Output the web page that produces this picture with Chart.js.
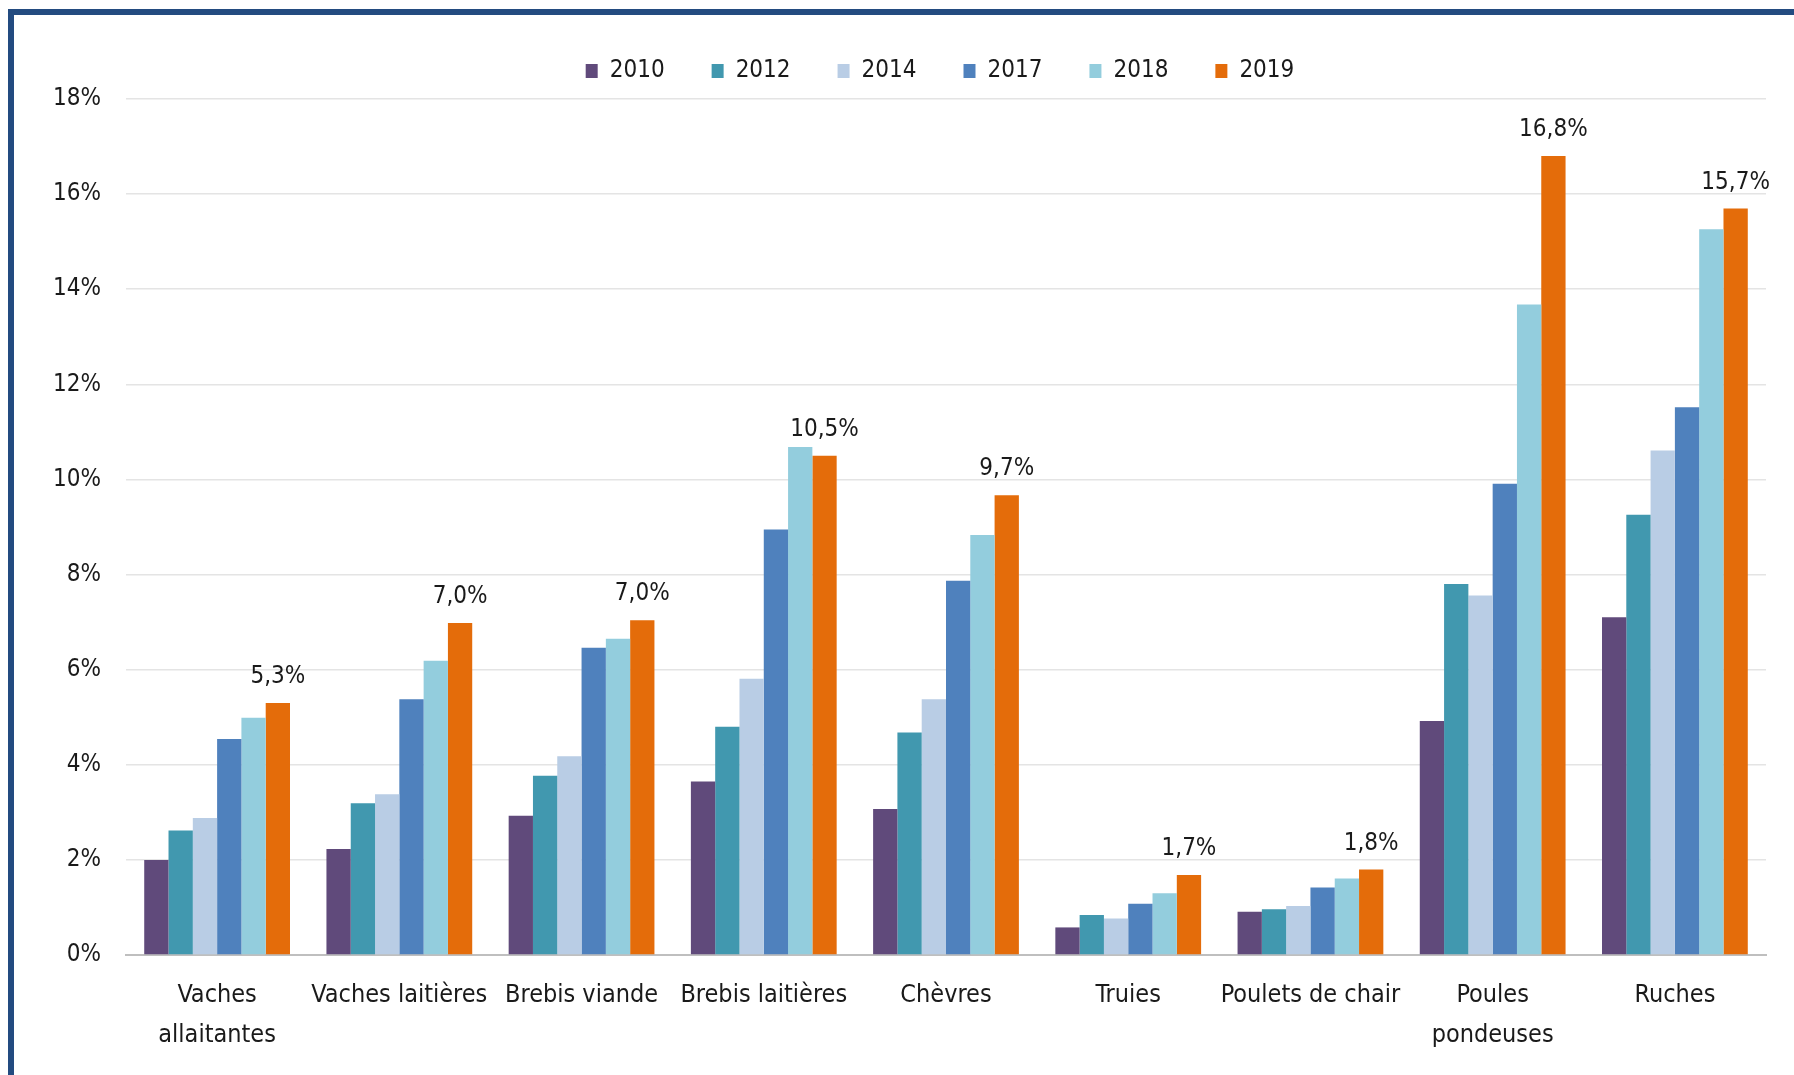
<!DOCTYPE html>
<html lang="fr">
<head>
<meta charset="utf-8">
<title>Part des cheptels en bio</title>
<script src="https://cdn.jsdelivr.net/npm/chart.js@4.4.1/dist/chart.umd.min.js"></script>
<style>
    html, body { margin: 0; padding: 0; background: #fff; overflow: hidden; }
    #frame {
        position: absolute; left: 8px; top: 9px;
        width: 2000px; height: 1200px;
        border: 6px solid #234b80; border-right: none; border-bottom: none;
        box-sizing: border-box;
    }
    #wrap { position: absolute; left: 0; top: 0; width: 1794px; height: 1075px; }
</style>
</head>
<body>
<div id="frame"></div>
<div id="wrap"><canvas id="chart"></canvas></div>
<script>
const categories = [
    ['Vaches', 'allaitantes'], 'Vaches laitières', 'Brebis viande', 'Brebis laitières',
    'Chèvres', 'Truies', 'Poulets de chair', ['Poules', 'pondeuses'], 'Ruches'
];
const years = ['2010', '2012', '2014', '2017', '2018', '2019'];
const colors = ['#604a7b', '#4198af', '#b9cde5', '#4f81bd', '#93cddd', '#e46c0a'];

// part du cheptel en bio, en %
const values2010 = [2.0, 2.23, 2.93, 3.65, 3.07, 0.58, 0.91, 4.92, 7.1];
const values2012 = [2.62, 3.19, 3.77, 4.8, 4.68, 0.84, 0.96, 7.8, 9.26];
const values2014 = [2.88, 3.38, 4.18, 5.81, 5.38, 0.77, 1.03, 7.56, 10.61];
const values2017 = [4.54, 5.38, 6.46, 8.95, 7.87, 1.08, 1.42, 9.91, 11.52];
const values2018 = [4.99, 6.19, 6.65, 10.68, 8.83, 1.3, 1.61, 13.68, 15.26];
const values2019 = [5.3, 6.98, 7.04, 10.5, 9.67, 1.68, 1.8, 16.8, 15.7];
const yTicks = [0, 2, 4, 6, 8, 10, 12, 14, 16, 18];

const FONT = "'Liberation Sans Narrow', 'DejaVu Sans Condensed', 'Arial Narrow', sans-serif";

const valueLabels = {
    id: 'valueLabels',
    afterDatasetsDraw(chart) {
        const ctx = chart.ctx;
        const meta = chart.getDatasetMeta(5);
        ctx.save();
        ctx.font = '24px ' + FONT;
        ctx.fillStyle = '#1a1a1a';
        ctx.textAlign = 'center';
        ctx.textBaseline = 'middle';
        meta.data.forEach((bar, i) => {
            const txt = values2019[i].toFixed(1).replace('.', ',') + '%';
            ctx.fillText(txt, bar.x, bar.y - 26);
        });
        ctx.restore();
    }
};

// recale la légende comme sur l'original
const legendShift = {
    id: 'legendShift',
    afterLayout(chart) {
        const lg = chart.legend;
        lg.left += 57;
        lg.right += 57;
        lg.top -= 6;
        lg.bottom -= 6;
    }
};

new Chart(document.getElementById('chart'), {
    type: 'bar',
    data: {
        labels: categories,
        datasets: [values2010, values2012, values2014, values2017, values2018, values2019].map((d, i) => ({
            label: years[i],
            data: d,
            backgroundColor: colors[i],
            borderWidth: 0,
            categoryPercentage: 0.8,
            barPercentage: 1.0
        }))
    },
    options: {
        responsive: true,
        maintainAspectRatio: false,
        animation: false,
        layout: { padding: { left: 0, right: 28, top: 18, bottom: 0 } },
        plugins: {
            tooltip: { enabled: false },
            legend: {
                position: 'top',
                labels: {
                    boxWidth: 12,
                    boxHeight: 14,
                    padding: 47,
                    color: '#1a1a1a',
                    font: { family: FONT, size: 24 }
                }
            }
        },
        scales: {
            x: {
                grid: { display: false },
                border: { color: '#bfbfbf', width: 2 },
                ticks: {
                    color: '#1a1a1a',
                    padding: 12,
                    maxRotation: 0,
                    autoSkip: false,
                    font: { family: FONT, size: 25, lineHeight: 1.6 }
                },
                afterFit(scale) { scale.height = 120; }
            },
            y: {
                min: 0,
                max: 18,
                afterBuildTicks(scale) { scale.ticks = yTicks.map(v => ({ value: v })); },
                grid: { color: '#e4e4e4', lineWidth: 1.5, drawTicks: false },
                border: { display: false },
                ticks: {
                    color: '#1a1a1a',
                    padding: 25,
                    font: { family: FONT, size: 24 },
                    callback: v => v + '%'
                },
                afterFit(scale) { scale.width = 126; }
            }
        }
    },
    plugins: [valueLabels, legendShift]
});
</script>
</body>
</html>
